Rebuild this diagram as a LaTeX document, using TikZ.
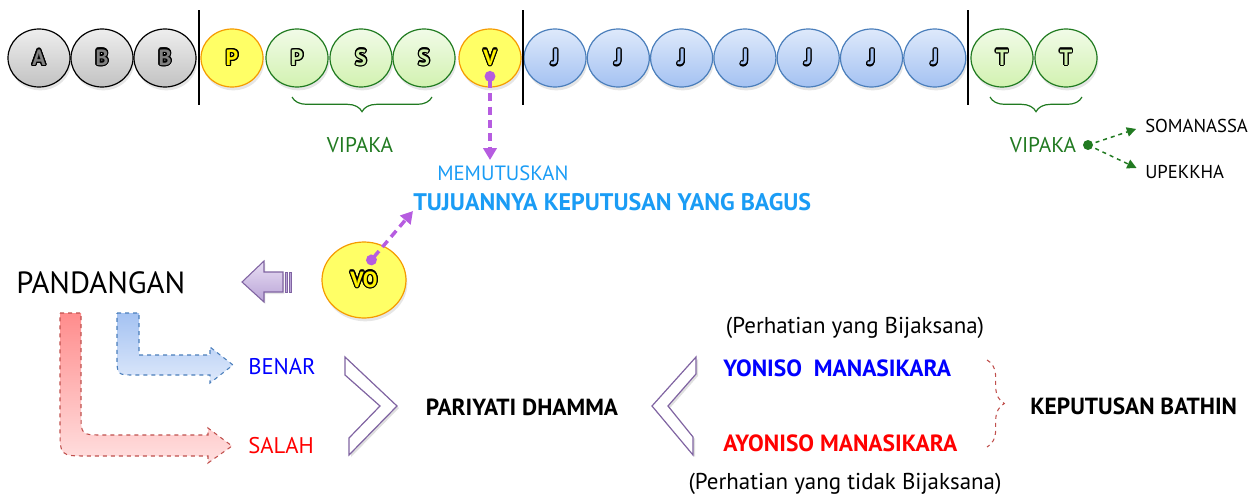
\documentclass[tikz,border=0pt]{standalone}
\usepackage{fontspec}
\setmainfont{PT Sans}
\usepackage{xcolor}
\usepackage[copies]{contour}
\usetikzlibrary{shapes.geometric, shadows, decorations.pathreplacing, arrows.meta}

\definecolor{greylt}{HTML}{EEEEEE}
\definecolor{greydk}{HTML}{C2C2C2}
\definecolor{greenlt}{HTML}{F1FBE8}
\definecolor{greendk}{HTML}{D2F2B0}
\definecolor{greenln}{HTML}{1F7A1F}
\definecolor{bluelt}{HTML}{DEE9FB}
\definecolor{bluedk}{HTML}{A4C2F2}
\definecolor{blueln}{HTML}{4A7EBB}
\definecolor{yellowb}{HTML}{FFFF66}
\definecolor{orangeln}{HTML}{F59B00}
\definecolor{vipgreen}{HTML}{217A21}
\definecolor{violet}{HTML}{B65CE0}
\definecolor{skyblue}{HTML}{1A9CF5}
\definecolor{lilaclt}{HTML}{E8DEF4}
\definecolor{lilacdk}{HTML}{B9A3D6}
\definecolor{lilacln}{HTML}{8064A2}
\definecolor{brick}{HTML}{C0504D}

\contourlength{0.9pt}
\newcommand{\ltr}[2]{\contour{black}{\textcolor{#1}{#2}}}

\tikzset{
    ball/.style={ellipse, minimum width=46.5pt, minimum height=43.5pt, inner sep=0pt, line width=0.9pt,
        drop shadow={opacity=0.2, shadow xshift=1pt, shadow yshift=-2.5pt},
        font=\bfseries\fontsize{16.5}{16.5}\selectfont},
    greyball/.style={ball, draw=black, top color=greylt, bottom color=greydk},
    greenball/.style={ball, draw=greenln, top color=greenlt, bottom color=greendk},
    blueball/.style={ball, draw=blueln, top color=bluelt, bottom color=bluedk},
    yellowball/.style={ball, draw=orangeln, fill=yellowb},
    vipbrace/.style={vipgreen, line width=0.9pt, decorate, decoration={brace, mirror, amplitude=11pt}},
    vioarrow/.style={violet, line width=2.6pt, dash pattern=on 6pt off 4pt,
        {Circle[length=8pt]}-{Triangle[length=9pt, width=10pt]}},
    chevron/.style={draw=lilacln, fill=white, line width=0.9pt,
        drop shadow={opacity=0.25, shadow xshift=1.5pt, shadow yshift=-1.5pt}},
    txt/.style={inner sep=0pt, anchor=west}
}

\begin{document}
\begin{tikzpicture}[x=0.75pt, y=-0.75pt]

    \useasboundingbox (0,0) rectangle (1254,496);

    % row of cittas
    \node[greyball] (a) at (39,58) {\ltr{gray}{A}};
    \node[greyball] (b1) at (102,58) {\ltr{gray}{B}};
    \node[greyball] (b2) at (165,58) {\ltr{gray}{B}};
    \node[yellowball] (p1) at (232,58) {\ltr{yellow}{P}};
    \node[greenball] (p2) at (297,58) {\ltr{greendk}{P}};
    \node[greenball] (s1) at (361,58) {\ltr{greendk}{S}};
    \node[greenball] (s2) at (424,58) {\ltr{greendk}{S}};
    \node[yellowball] (v) at (490,58) {\ltr{yellow}{V}};
    \foreach \i in {1,...,7}
        \node[blueball] (j\i) at (555+63.3*\i-63.3,58) {\ltr{bluedk}{J}};
    \node[greenball] (t1) at (1002,58) {\ltr{greendk}{T}};
    \node[greenball] (t2) at (1066,58) {\ltr{greendk}{T}};

    \draw[line width=1.4pt] (199,10) -- (199,105);
    \draw[line width=1.4pt] (523,10) -- (523,105);
    \draw[line width=1.4pt] (968,10) -- (968,105);

    % vipaka braces
    \draw[vipbrace] (292,97) -- (432,97);
    \node[vipgreen, font=\fontsize{16}{16}\selectfont] (vip1) at (360,145) {VIPAKA};
    \draw[vipbrace] (990,97) -- (1082,97);
    \node[vipgreen, font=\fontsize{16}{16}\selectfont] (vip2) at (1043,145) {VIPAKA};

    \coordinate (gdot) at (1088,145);
    \fill[vipgreen] (gdot) circle[radius=5];
    \node[txt, font=\fontsize{14}{14}\selectfont] (soma) at (1145,126) {SOMANASSA};
    \node[txt, font=\fontsize{14}{14}\selectfont] (upek) at (1145,172) {UPEKKHA};
    \draw[vipgreen, line width=1.1pt, dashed, -{Triangle[length=7pt, width=7pt]}, shorten >=7pt] (gdot) -- (soma.west);
    \draw[vipgreen, line width=1.1pt, dashed, -{Triangle[length=7pt, width=7pt]}, shorten >=7pt] (gdot) -- (upek.west);

    % votthapana
    \node[txt, skyblue, font=\fontsize{15.5}{15.5}\selectfont] (memut) at (437,173) {MEMUTUSKAN};
    \node[txt, skyblue, font=\bfseries\fontsize{18}{18}\selectfont] (tuj) at (413,202) {TUJUANNYA KEPUTUSAN YANG BAGUS};
    \coordinate (vdot) at (490,71);
    \draw[vioarrow] (vdot) -- (490,160);

    \node[yellowball, minimum width=63pt, minimum height=57pt] (vo) at (364,280) {\ltr{yellow}{VO}};
    \coordinate (vodot) at (368,264);
    \draw[vioarrow] (vodot) -- (tuj.south west);

    % arrow back to pandangan
    \draw[draw=lilacln, top color=lilaclt, bottom color=lilacdk, line width=0.8pt,
        drop shadow={opacity=0.2, shadow xshift=1pt, shadow yshift=-1.5pt}]
        (242,282) -- (264,261) -- (264,272) -- (283,272) -- (283,292) -- (264,292) -- (264,302) -- cycle;
    \draw[draw=lilacln, fill=lilacdk, line width=0.6pt] (285,272) rectangle (287,292);
    \draw[draw=lilacln, fill=lilacdk, line width=0.6pt] (289,272) rectangle (291,292);

    \node[txt, font=\fontsize{23}{23}\selectfont] (pand) at (16,283) {PANDANGAN};

    \draw[blueln, dashed, line width=0.8pt, top color=bluedk, bottom color=bluelt]
        (117,313) -- (139,313) -- (139,355) -- (210,355) -- (210,347) -- (233,365)
        -- (210,383) -- (210,375) -- (135,375) .. controls (117,375) .. (117,357) -- cycle;
    \draw[brick, dashed, line width=0.8pt, top color=red!45, bottom color=red!12]
        (60,313) -- (81,313) -- (81,413) .. controls (81,435) .. (103,435) -- (208,435) -- (208,428) -- (232,446)
        -- (208,463) -- (208,456) -- (88,456) .. controls (60,456) .. (60,428) -- cycle;

    \node[txt, blue, font=\fontsize{17}{17}\selectfont] (benar) at (248,367) {BENAR};
    \node[txt, red, font=\fontsize{17}{17}\selectfont] (salah) at (248,446) {SALAH};

    % pariyati dhamma between the chevrons
    \draw[chevron] (345,357) -- (397,406) -- (349,455) -- (349,438) -- (380,406) -- (345,375) -- cycle;
    \node[font=\bfseries\fontsize{17.5}{17.5}\selectfont] (pariy) at (522,407) {PARIYATI DHAMMA};
    \draw[chevron] (696,357) -- (652,406) -- (693,455) -- (693,437) -- (668,406) -- (696,374) -- cycle;

    \node[font=\fontsize{17.2}{17.2}\selectfont] (bijak) at (855,328) {(Perhatian yang Bijaksana)};
    \node[txt, blue, font=\bfseries\fontsize{17.6}{17.6}\selectfont] (yon) at (723,368) {YONISO\ \ MANASIKARA};
    \node[txt, red, font=\bfseries\fontsize{17.6}{17.6}\selectfont] (ayon) at (723,443) {AYONISO MANASIKARA};
    \node[font=\fontsize{17.2}{17.2}\selectfont] (tbijak) at (845,484) {(Perhatian yang tidak Bijaksana)};

    \draw[brick, dashed, line width=0.8pt, decorate, decoration={brace, amplitude=13pt}] (987,360) -- (987,447);
    \node[txt, font=\bfseries\fontsize{17.5}{17.5}\selectfont] (kep) at (1030,406) {KEPUTUSAN BATHIN};

\end{tikzpicture}
\end{document}
